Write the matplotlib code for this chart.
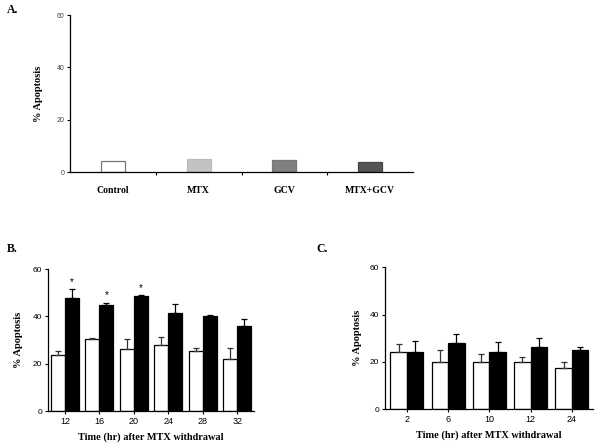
import matplotlib
matplotlib.use("Agg")
import matplotlib.pyplot as plt
import numpy as np

# Panel A: single treatments
treatments = ["Control", "MTX", "GCV", "MTX+GCV"]
apoptosis_a = [4.3, 5.1, 4.6, 3.8]
colors_a = ["white", "#c3c3c3", "#808080", "#555555"]

# Panel B: hours after MTX withdrawal
hours_b = ["12", "16", "20", "24", "28", "32"]
white_b = [23.7, 30.3, 26.1, 27.8, 25.5, 21.8]
white_b_err = [1.6, 0.7, 4.2, 3.6, 1.2, 4.8]
black_b = [47.6, 45.0, 48.6, 41.5, 40.0, 35.9]
black_b_err = [3.8, 0.8, 0.4, 3.6, 0.4, 2.8]
signif_b = [True, True, True, False, False, False]

# Panel C
hours_c = ["2", "6", "10", "12", "24"]
white_c = [24.3, 20.1, 19.9, 19.9, 17.4]
white_c_err = [3.1, 4.8, 3.3, 2.1, 2.5]
black_c = [24.3, 27.8, 24.0, 26.1, 24.9]
black_c_err = [4.4, 4.0, 4.2, 3.8, 1.5]

SERIF = "Liberation Serif"
SANS = "Liberation Sans"
plt.rcParams["font.family"] = SANS


def style_axes(ax, tick_size=6):
    ax.spines["top"].set_visible(False)
    ax.spines["right"].set_visible(False)
    for s in ("left", "bottom"):
        ax.spines[s].set_linewidth(0.9)
    ax.set_ylim(0, 60)
    ax.set_yticks([0, 20, 40, 60])
    ax.tick_params(axis="y", length=2.5, width=0.8, labelsize=tick_size, pad=1.5)


def paired_bars(ax, labels, white, white_err, black, black_err, width, xlim):
    x = np.arange(len(labels))
    ax.bar(x - width / 2, white, width, color="white", edgecolor="black", linewidth=0.9, zorder=2)
    ax.bar(x + width / 2, black, width, color="black", edgecolor="black", linewidth=0.9, zorder=2)
    ax.errorbar(x - width / 2, white, yerr=[np.zeros(len(x)), white_err], fmt="none",
                ecolor="#333333", elinewidth=0.9, capsize=2, capthick=0.9, zorder=3)
    ax.errorbar(x + width / 2, black, yerr=[np.zeros(len(x)), black_err], fmt="none",
                ecolor="black", elinewidth=0.9, capsize=2, capthick=0.9, zorder=3)
    ax.set_xticks(x)
    ax.set_xticklabels(labels)
    ax.set_xlim(*xlim)
    ax.tick_params(axis="x", length=2, width=0.8, labelsize=6.5, pad=2)
    ax.set_xlabel("Time (hr) after MTX withdrawal", family=SERIF, fontweight="bold", fontsize=7.4)
    ax.xaxis.set_label_coords(0.5, -0.15)
    ax.set_ylabel("% Apoptosis", family=SERIF, fontweight="bold", fontsize=7.5)
    return x


fig = plt.figure(figsize=(6, 4.43), dpi=100)

# --- A ---
axA = fig.add_axes([0.1167, 0.6117, 0.5717, 0.3544])
style_axes(axA, tick_size=5)
xa = np.arange(len(treatments))
axA.bar(xa, apoptosis_a, 0.28, color=colors_a, edgecolor=["#777777", "#bbbbbb", "#777777", "#444444"],
        linewidth=0.9)
axA.set_xlim(-0.5, 3.5)
axA.set_xticks(xa)
axA.set_xticklabels(treatments, family=SERIF, fontweight="bold", fontsize=7)
axA.set_xticks([0.5, 1.5, 2.5], minor=True)
axA.tick_params(axis="x", which="major", length=0, pad=10)
axA.tick_params(axis="x", which="minor", length=2.5, width=0.8)
for lbl in axA.get_yticklabels():
    lbl.set_color("#444444")
axA.set_ylabel("% Apoptosis", family=SERIF, fontweight="bold", fontsize=7.5)
axA.yaxis.set_label_coords(-0.08, 0.5)
fig.text(0.012, 0.977, "A.", family=SERIF, fontweight="bold", fontsize=8.5, va="center", ha="left")

# --- B ---
axB = fig.add_axes([0.08, 0.0722, 0.3433, 0.3205])
style_axes(axB)
xb = paired_bars(axB, hours_b, white_b, white_b_err, black_b, black_b_err, 0.405, (-0.49, 5.48))
axB.yaxis.set_label_coords(-0.121, 0.5)
for xi, top, err, sig in zip(xb, black_b, black_b_err, signif_b):
    if sig:
        axB.annotate("*", (xi + 0.405 / 2, top + err), xytext=(0, 1.5), textcoords="offset points",
                     ha="center", va="bottom", fontsize=7)
fig.text(0.012, 0.437, "B.", family=SERIF, fontweight="bold", fontsize=8.5, va="center", ha="left")

# --- C ---
axC = fig.add_axes([0.6417, 0.0767, 0.3472, 0.3199])
style_axes(axC)
paired_bars(axC, hours_c, white_c, white_c_err, black_c, black_c_err, 0.40, (-0.53, 4.52))
axC.yaxis.set_label_coords(-0.11, 0.5)
fig.text(0.528, 0.437, "C.", family=SERIF, fontweight="bold", fontsize=8.5, va="center", ha="left")

fig.savefig("out.png", dpi=100)
